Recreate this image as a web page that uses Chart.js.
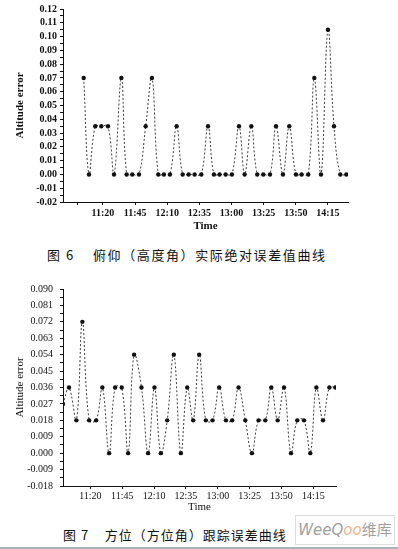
<!DOCTYPE html>
<html lang="zh">
<head>
<meta charset="UTF-8">
<title>俯仰与方位误差曲线</title>
<style>
  body { margin: 0; background: #fff; }
  #page { position: relative; width: 398px; height: 549px; overflow: hidden; background: #fff; }
  canvas { position: absolute; left: 0; }
  #c1 { top: 0; }
  #c2 { top: 240px; }
  .cap { position: absolute; font-family: "Noto Sans CJK SC", sans-serif; font-size: 13px; color: #111; white-space: nowrap; letter-spacing: 1.6px; line-height: 16px; }
  #cap1 { left: 47px; top: 247px; }
  #cap2 { left: 63px; top: 527px; letter-spacing: 1px; }
  #mark { position: absolute; left: 295px; top: 515px; width: 98px; height: 28px; border: 1px solid #ddd; background: #fff;
          font-family: "DejaVu Sans", "Noto Sans CJK SC", sans-serif; font-size: 15px; line-height: 28px; color: #a0a0a0; text-align: center; }
  #mark i { font-style: italic; }
  #mark b { font-weight: normal; color: #f2b48c; font-style: italic; }
  #rule { position: absolute; left: 0; top: 547px; width: 398px; height: 2px; background: #a9b2bd; }
</style>
</head>
<body>
<div id="page">
  <canvas id="c1" width="398" height="236"></canvas>
  <div class="cap" id="cap1">图 6&nbsp;&nbsp;&nbsp;&nbsp;俯仰（高度角）实际绝对误差值曲线</div>
  <canvas id="c2" width="398" height="280"></canvas>
  <div class="cap" id="cap2">图 7&nbsp;&nbsp;&nbsp;&nbsp;方位（方位角）跟踪误差曲线</div>
  <div id="mark"><i>WeeQ</i><b>oo</b>维库</div>
  <div id="rule"></div>
</div>

<script src="https://cdn.jsdelivr.net/npm/chart.js"></script>
<script>
  // 时间轴刻度
  const timeLabels = ['11:20', '11:45', '12:10', '12:35', '13:00', '13:25', '13:50', '14:15'];

  // 图6 俯仰误差 (时间: 距10:00的分钟数)
  const t1 = [65.0, 69.1, 74.0, 78.7, 83.9, 88.6, 94.3, 98.4, 102.8, 108.0, 113.2, 118.1, 123.0, 127.4, 132.1,
              137.3, 142.0, 146.6, 151.3, 156.5, 161.7, 166.3, 170.7, 175.4, 180.3, 185.8, 190.2, 195.4, 200.0,
              204.7, 209.9, 214.6, 220.0, 224.9, 230.1, 234.5, 239.7, 244.4, 249.6, 255.0, 259.7, 264.6, 269.3];
  const err1 = [0.07, 0, 0.035, 0.035, 0.035, 0, 0.07, 0, 0, 0, 0.035, 0.07, 0, 0, 0,
                0.035, 0, 0, 0, 0, 0.035, 0, 0, 0, 0, 0.035, 0, 0.035, 0,
                0, 0, 0.035, 0, 0.035, 0, 0, 0, 0.07, 0, 0.105, 0.035, 0, 0];
  const yLabels1 = ['-0.02', '-0.01', '0.00', '0.01', '0.02', '0.03', '0.04', '0.05', '0.06',
                    '0.07', '0.08', '0.09', '0.10', '0.11', '0.12'];

  // 图7 方位误差
  const t2 = [58.5, 63.2, 69.0, 73.7, 79.0, 84.5, 89.4, 94.7, 99.4, 104.6, 109.6, 114.3, 120.1, 125.3, 130.3,
              135.3, 140.3, 145.5, 151.0, 156.0, 160.7, 165.4, 170.6, 175.9, 181.1, 186.4, 191.3, 196.3, 201.6,
              206.8, 212.0, 217.3, 222.0, 227.0, 232.0, 237.5, 242.4, 247.7, 252.6, 257.4, 262.6, 267.6, 272.3];
  const err2 = [0.027, 0.036, 0.018, 0.072, 0.018, 0.018, 0.036, 0, 0.036, 0.036, 0, 0.054, 0.036, 0, 0.036,
                0, 0.018, 0.054, 0, 0.036, 0.018, 0.054, 0.018, 0.018, 0.036, 0.018, 0.018, 0.036, 0.018,
                0, 0.018, 0.018, 0.036, 0.018, 0.036, 0, 0.018, 0.018, 0, 0.036, 0.018, 0.036, 0.036];
  const yLabels2 = ['-0.018', '-0.009', '0.000', '0.009', '0.018', '0.027', '0.036', '0.045', '0.054',
                    '0.063', '0.072', '0.081', '0.090'];

  const toMin = s => { const p = s.split(':'); return (+p[0] - 10) * 60 + (+p[1]); };
  const ink = '#111';
  const serif = '"Liberation Serif", "DejaVu Serif", serif';

  function buildChart(id, xs, ys, o) {
    const majors = o.yLabels.map(Number);
    const yVals = [];
    majors.forEach((v, i) => {
      yVals.push(v);
      if (i < majors.length - 1) yVals.push((v + majors[i + 1]) / 2);
    });
    const xVals = timeLabels.map(toMin).concat(o.xExtra.map(toMin));

    return new Chart(document.getElementById(id), {
      type: 'line',
      data: {
        datasets: [{
          data: xs.map((x, i) => ({ x: x, y: ys[i] })),
          borderColor: '#3c3c3c',
          borderWidth: 1,
          borderDash: [2, 2],
          tension: 0.4,
          pointRadius: 2.2,
          pointBackgroundColor: ink,
          pointBorderWidth: 0,
          fill: false
        }]
      },
      options: {
        responsive: false,
        animation: false,
        layout: { padding: { top: o.padTop, right: o.padRight, left: 0, bottom: 0 } },
        plugins: { legend: { display: false }, tooltip: { enabled: false } },
        scales: {
          x: {
            type: 'linear', min: o.xMin, max: o.xMax,
            afterBuildTicks: s => { s.ticks = xVals.map(v => ({ value: v })); },
            afterFit: s => { s.height = o.xHeight; },
            grid: { drawOnChartArea: false, drawTicks: true, tickLength: 3, color: ink },
            border: { color: ink, width: 1 },
            ticks: {
              autoSkip: false, maxRotation: 0, padding: o.xPad, color: ink, font: o.tickFont,
              callback: (v, i) => i < timeLabels.length ? timeLabels[i] : ''
            },
            title: { display: true, text: 'Time', color: ink, font: o.titleFont, padding: { top: 0, bottom: o.xTitlePad } }
          },
          y: {
            min: majors[0], max: majors[majors.length - 1],
            afterBuildTicks: s => { s.ticks = yVals.map(v => ({ value: v })); },
            afterFit: s => { s.width = 63; },
            grid: { drawOnChartArea: false, drawTicks: true, tickLength: 3, color: ink },
            border: { color: ink, width: 1 },
            ticks: {
              autoSkip: false, padding: o.yPad, color: ink, font: o.tickFont,
              callback: (v, i) => i % 2 === 0 ? o.yLabels[i / 2] : ''
            },
            title: { display: true, text: 'Altitude error', color: ink, font: o.titleFont, padding: { top: 14, bottom: 0 } }
          }
        }
      }
    });
  }

  buildChart('c1', t1, err1, {
    yLabels: yLabels1, xExtra: ['11:00'], xMin: 48.9, xMax: 270.6,
    padTop: 9, padRight: 50, xHeight: 34, xPad: 2, xTitlePad: 3, yPad: 3,
    tickFont: { family: serif, size: 10, weight: 'bold' },
    titleFont: { family: serif, size: 11, weight: 'bold' }
  });

  buildChart('c2', t2, err2, {
    yLabels: yLabels2, xExtra: [], xMin: 58.5, xMax: 272.8,
    padTop: 49, padRight: 62, xHeight: 34, xPad: 1, xTitlePad: 6, yPad: 7,
    tickFont: { family: serif, size: 10 },
    titleFont: { family: serif, size: 11 }
  });
</script>
</body>
</html>
